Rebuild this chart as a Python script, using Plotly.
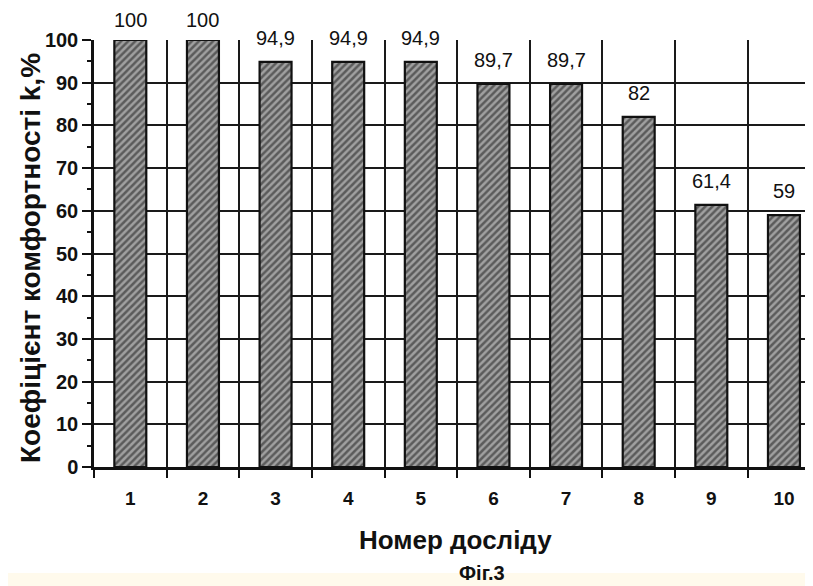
import plotly.graph_objects as go

categories = [1, 2, 3, 4, 5, 6, 7, 8, 9, 10]
values = [100, 100, 94.9, 94.9, 94.9, 89.7, 89.7, 82, 61.4, 59]
value_labels = ["100", "100", "94,9", "94,9", "94,9", "89,7", "89,7", "82", "61,4", "59"]
y_ticks = [0, 10, 20, 30, 40, 50, 60, 70, 80, 90, 100]

FONT = "Liberation Sans, Arial, sans-serif"
INK = "#111111"

# page offset of the figure (browser body margin)
OFF = 8
PL, PT, PB = 94, 40, 467      # plot area edges in page pixels
PW, PH = 813 - PL, PB - PT


def px(xp):
    return (xp - PL) / PW


def py(yp):
    return (PB - yp) / PH


fig = go.Figure()
fig.add_trace(go.Bar(
    x=categories, y=values, width=0.44,
    marker=dict(
        color="#777777",
        line=dict(color=INK, width=2.2),
        pattern=dict(shape="/", fgcolor="#151515", bgcolor="#a0a0a0", size=5, solidity=0.5),
    ),
    hoverinfo="skip",
))

ymax = max(values)
for x, v, t in zip(categories, values, value_labels):
    fig.add_annotation(x=x, y=v, text=t, showarrow=False, yanchor="bottom",
                       yshift=7 if v >= ymax else 11,
                       font=dict(family=FONT, size=20, color=INK))

fig.update_layout(
    width=813 - OFF, height=586 - OFF,
    margin=dict(l=PL - OFF, r=0, t=PT - OFF, b=586 - PB, autoexpand=False),
    paper_bgcolor="white", plot_bgcolor="white",
    showlegend=False,
    bargap=0.5,
    xaxis=dict(
        range=[0.5, 10.4], tickvals=categories, ticktext=[f"<b>{c}</b>" for c in categories],
        ticks="", showgrid=False, zeroline=False, automargin=False,
        showline=True, linecolor=INK, linewidth=2.5,
        tickfont=dict(family=FONT, size=19, color=INK),
        ticklabelstandoff=12,
        minor=dict(tick0=0.5, dtick=1, showgrid=True, gridcolor="#1a1a1a", gridwidth=1.5,
                   ticks="outside", ticklen=8, tickcolor=INK, tickwidth=2),
    ),
    yaxis=dict(
        range=[0, 100], tickvals=y_ticks, ticktext=[f"<b>{t}</b>" for t in y_ticks],
        ticks="outside", ticklen=9, tickwidth=2, tickcolor=INK, automargin=False,
        showgrid=True, gridcolor="#1a1a1a", gridwidth=1.5, zeroline=False,
        showline=True, linecolor=INK, linewidth=2.5,
        tickfont=dict(family=FONT, size=20, color=INK),
        minor=dict(dtick=5, ticks="outside", ticklen=4, tickcolor=INK, tickwidth=2, showgrid=False),
    ),
)

# Axis titles and caption
fig.add_annotation(xref="paper", yref="paper", x=px(30), y=py(258),
                   xanchor="center", yanchor="middle",
                   text="<b>Коефіцієнт комфортності k,%</b>",
                   textangle=-90, showarrow=False, font=dict(family=FONT, size=28, color=INK))
fig.add_annotation(xref="paper", yref="paper", x=px(455), y=py(540),
                   xanchor="center", yanchor="middle",
                   text="<b>Номер досліду</b>", showarrow=False,
                   font=dict(family=FONT, size=26, color=INK))
# light band at bottom
fig.add_shape(type="rect", xref="paper", yref="paper", x0=px(OFF), x1=1,
              y0=py(586), y1=py(573),
              fillcolor="#fffaec", line=dict(width=0), layer="below")
fig.add_annotation(xref="paper", yref="paper", x=px(482), y=py(586),
                   xanchor="center", yanchor="bottom",
                   text="<b>Фіг.3</b>", showarrow=False,
                   font=dict(family=FONT, size=20, color=INK))

fig.write_html("out.html")
